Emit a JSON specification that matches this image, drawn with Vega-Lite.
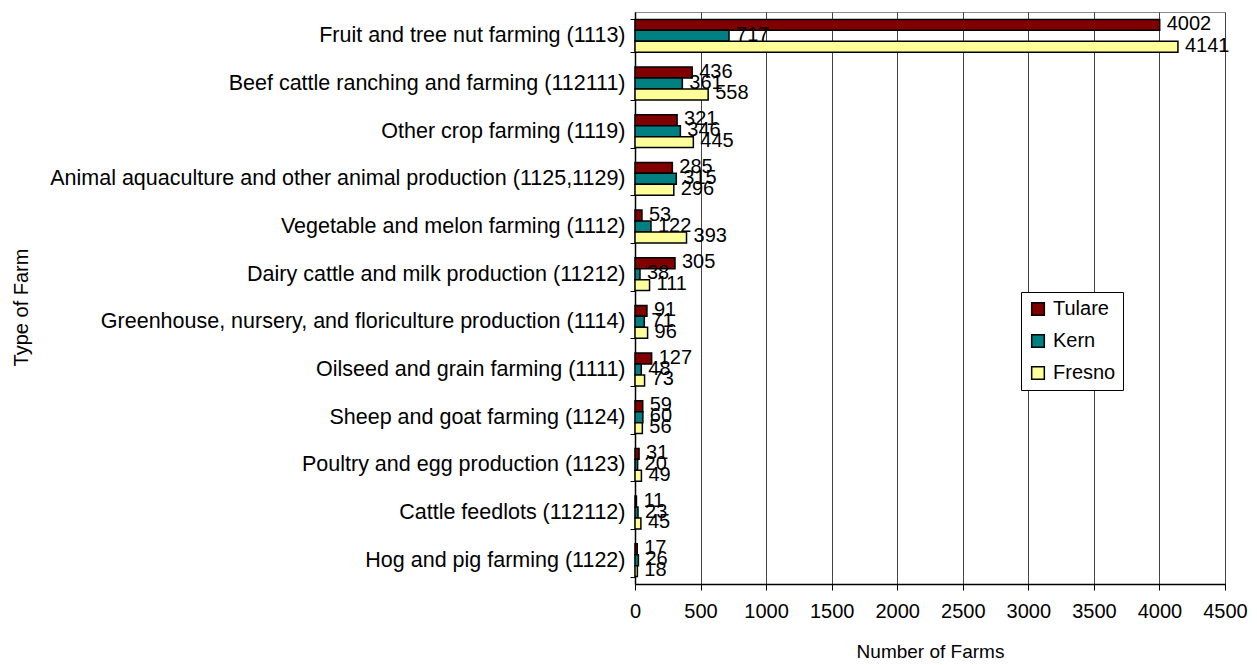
{
  "$schema": "https://vega.github.io/schema/vega-lite/v6.json",
  "autosize": {"type": "none"},
  "padding": {"left": 635, "top": 12, "right": 32, "bottom": 81},
  "width": 590,
  "height": 572,
  "background": "white",
  "config": {
    "font": "Liberation Sans",
    "view": {"stroke": "#888888", "strokeWidth": 1}
  },
  "data": {
    "values": [
      {"type": "Fruit and tree nut farming (1113)", "county": "Tulare", "farms": 4002},
      {"type": "Fruit and tree nut farming (1113)", "county": "Kern", "farms": 717},
      {"type": "Fruit and tree nut farming (1113)", "county": "Fresno", "farms": 4141},
      {"type": "Beef cattle ranching and farming (112111)", "county": "Tulare", "farms": 436},
      {"type": "Beef cattle ranching and farming (112111)", "county": "Kern", "farms": 361},
      {"type": "Beef cattle ranching and farming (112111)", "county": "Fresno", "farms": 558},
      {"type": "Other crop farming (1119)", "county": "Tulare", "farms": 321},
      {"type": "Other crop farming (1119)", "county": "Kern", "farms": 346},
      {"type": "Other crop farming (1119)", "county": "Fresno", "farms": 445},
      {"type": "Animal aquaculture and other animal production (1125,1129)", "county": "Tulare", "farms": 285},
      {"type": "Animal aquaculture and other animal production (1125,1129)", "county": "Kern", "farms": 315},
      {"type": "Animal aquaculture and other animal production (1125,1129)", "county": "Fresno", "farms": 296},
      {"type": "Vegetable and melon farming (1112)", "county": "Tulare", "farms": 53},
      {"type": "Vegetable and melon farming (1112)", "county": "Kern", "farms": 122},
      {"type": "Vegetable and melon farming (1112)", "county": "Fresno", "farms": 393},
      {"type": "Dairy cattle and milk production (11212)", "county": "Tulare", "farms": 305},
      {"type": "Dairy cattle and milk production (11212)", "county": "Kern", "farms": 38},
      {"type": "Dairy cattle and milk production (11212)", "county": "Fresno", "farms": 111},
      {"type": "Greenhouse, nursery, and floriculture production (1114)", "county": "Tulare", "farms": 91},
      {"type": "Greenhouse, nursery, and floriculture production (1114)", "county": "Kern", "farms": 71},
      {"type": "Greenhouse, nursery, and floriculture production (1114)", "county": "Fresno", "farms": 96},
      {"type": "Oilseed and grain farming (1111)", "county": "Tulare", "farms": 127},
      {"type": "Oilseed and grain farming (1111)", "county": "Kern", "farms": 48},
      {"type": "Oilseed and grain farming (1111)", "county": "Fresno", "farms": 73},
      {"type": "Sheep and goat farming (1124)", "county": "Tulare", "farms": 59},
      {"type": "Sheep and goat farming (1124)", "county": "Kern", "farms": 60},
      {"type": "Sheep and goat farming (1124)", "county": "Fresno", "farms": 56},
      {"type": "Poultry and egg production (1123)", "county": "Tulare", "farms": 31},
      {"type": "Poultry and egg production (1123)", "county": "Kern", "farms": 20},
      {"type": "Poultry and egg production (1123)", "county": "Fresno", "farms": 49},
      {"type": "Cattle feedlots (112112)", "county": "Tulare", "farms": 11},
      {"type": "Cattle feedlots (112112)", "county": "Kern", "farms": 23},
      {"type": "Cattle feedlots (112112)", "county": "Fresno", "farms": 45},
      {"type": "Hog and pig farming (1122)", "county": "Tulare", "farms": 17},
      {"type": "Hog and pig farming (1122)", "county": "Kern", "farms": 26},
      {"type": "Hog and pig farming (1122)", "county": "Fresno", "farms": 18}
    ]
  },
  "encoding": {
    "y": {
      "field": "type",
      "type": "nominal",
      "sort": null,
      "scale": {"paddingInner": 0.31, "paddingOuter": 0.155},
      "axis": {
        "title": "Type of Farm",
        "titleFontSize": 20,
        "titleFontWeight": "normal",
        "titleColor": "black",
        "titleBaseline": "alphabetic",
        "titleX": -608,
        "titleY": 295,
        "labelFontSize": 21.5,
        "labelColor": "black",
        "labelLimit": 700,
        "labelPadding": 5,
        "tickBand": "extent",
        "tickSize": 5,
        "tickColor": "black",
        "domainColor": "black",
        "domainWidth": 1.5,
        "grid": false
      }
    },
    "yOffset": {"field": "county", "type": "nominal", "sort": ["Tulare", "Kern", "Fresno"], "scale": {"paddingInner": 0, "paddingOuter": 0}},
    "x": {
      "field": "farms",
      "type": "quantitative",
      "scale": {"domain": [0, 4500], "nice": false},
      "axis": {
        "title": "Number of Farms",
        "titleFontSize": 19,
        "titleFontWeight": "normal",
        "titleColor": "black",
        "titleBaseline": "alphabetic",
        "titleY": 73,
        "values": [0, 500, 1000, 1500, 2000, 2500, 3000, 3500, 4000, 4500],
        "format": "d",
        "labelFontSize": 20,
        "labelColor": "black",
        "labelPadding": 11,
        "labelFlush": false,
        "labelOverlap": false,
        "tickSize": 6,
        "tickColor": "black",
        "domainColor": "black",
        "domainWidth": 1.5,
        "grid": true,
        "gridColor": "#444444",
        "gridWidth": 1
      }
    }
  },
  "layer": [
    {
      "mark": {"type": "bar", "stroke": "black", "strokeWidth": 1.5},
      "encoding": {
        "color": {
          "field": "county",
          "type": "nominal",
          "sort": ["Tulare", "Kern", "Fresno"],
          "scale": {"domain": ["Tulare", "Kern", "Fresno"], "range": ["#800000", "#008080", "#FFFF99"]},
          "legend": {
            "title": null,
            "orient": "none",
            "legendX": 386,
            "legendY": 280,
            "padding": 7,
            "strokeColor": "black",
            "fillColor": "white",
            "symbolType": "square",
            "symbolSize": 160,
            "symbolStrokeColor": "black",
            "symbolStrokeWidth": 1.5,
            "symbolOpacity": 1,
            "labelFontSize": 20,
            "labelColor": "black",
            "labelOffset": 5,
            "rowPadding": 12
          }
        }
      }
    },
    {
      "mark": {"type": "text", "align": "left", "baseline": "middle", "dx": 7, "dy": -1, "fontSize": 20, "color": "black"},
      "encoding": {
        "text": {"field": "farms", "type": "quantitative"}
      }
    }
  ]
}
